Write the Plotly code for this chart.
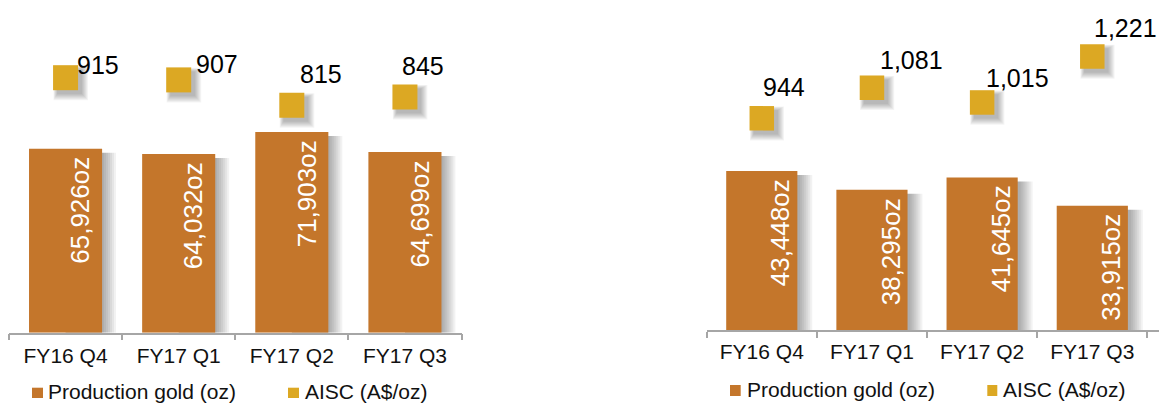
import plotly.graph_objects as go

# ---- data ----
quarters = ["FY16 Q4", "FY17 Q1", "FY17 Q2", "FY17 Q3"]
left_gold_oz = [65926, 64032, 71903, 64699]
left_aisc = [915, 907, 815, 845]
right_gold_oz = [43448, 38295, 41645, 33915]
right_aisc = [944, 1081, 1015, 1221]
series_names = ["Production gold (oz)", "AISC (A$/oz)"]

# ---- style ----
W, H = 1173, 403
BAR = "#C4762B"
GOLD = "#DCA823"
AXIS = "#A6A6A6"
FONT = "Arial, 'Liberation Sans', sans-serif"


def px_x(p):
    return p / W


def px_y(p):
    return 1 - p / H


panels = [
    dict(gold=left_gold_oz, aisc=left_aisc, xs=("x", "y", "y2"),
         x_px=(9, 461.5), base_px=332.7, gold_max=119200, aisc_rng=(-8.9, 1196.5),
         msize=25, bar_dx=15, tick_off=3,
         lbl_shift=[(11, 12.7), (17.5, 15.6), (8.5, 31), (-3, 31)],
         legend=dict(sq=[(32, 43), (288, 299)], sq_y=(387.7, 398), txt=[48, 305], ty=391.5)),
    dict(gold=right_gold_oz, aisc=right_aisc, xs=("x2", "y3", "y4"),
         x_px=(706.7, 1159.3), base_px=330, gold_max=90164, aisc_rng=(-4.9, 1474.3),
         msize=24.5, bar_dx=19, tick_off=2,
         lbl_shift=[(1, 31), (8, 28), (3.5, 24), (2, 29)],
         legend=dict(sq=[(730, 740.7), (987.3, 997.3)], sq_y=(385, 396), txt=[746.7, 1003.3], ty=389)),
]

fig = go.Figure()
shapes = []
annotations = []
layout = {}

for k, p in enumerate(panels):
    xa, ya, ya2 = p["xs"]
    xkey = "xaxis" if xa == "x" else "xaxis" + xa[1:]
    ykey = "yaxis" if ya == "y" else "yaxis" + ya[1:]
    y2key = "yaxis" + ya2[1:]
    ydom = [px_y(p["base_px"]), 1]
    plot_h = p["base_px"]
    gold_scale = plot_h / p["gold_max"]  # px per oz

    layout[xkey] = dict(
        domain=[px_x(p["x_px"][0]), px_x(p["x_px"][1])], anchor=ya,
        type="category", showline=True, linecolor=AXIS, linewidth=1.5,
        ticks="outside", tickson="boundaries", ticklen=6, tickcolor=AXIS, tickwidth=1.5,
        ticklabelstandoff=p["tick_off"],
        tickfont=dict(family=FONT, size=21, color="#111"), showgrid=False, zeroline=False,
    )
    layout[ykey] = dict(domain=ydom, anchor=xa, range=[0, p["gold_max"]], visible=False,
                        showgrid=False, zeroline=False)
    layout[y2key] = dict(overlaying=ya, anchor=xa, range=list(p["aisc_rng"]), visible=False,
                         showgrid=False, zeroline=False)

    fig.add_trace(go.Bar(x=quarters, y=p["gold"], xaxis=xa, yaxis=ya, marker_color=BAR,
                         marker_line_width=0, name=series_names[0], showlegend=False))
    fig.add_trace(go.Scatter(x=quarters, y=p["aisc"], xaxis=xa, yaxis=ya2, mode="markers",
                             marker=dict(symbol="square", size=p["msize"], color=GOLD, line_width=0),
                             name=series_names[1], showlegend=False))

    half = 73 / 2
    for q, v in zip(quarters, p["gold"]):
        # soft shadow on the right-hand side of each bar
        for s in range(1, 8):
            shapes.append(dict(type="rect", layer="below", xref=xa, yref=ya,
                               xsizemode="pixel", xanchor=q, x0=0, x1=half + 2 * s,
                               y0=0, y1=v - 4 / gold_scale,
                               fillcolor="rgba(0,0,0,0.05)", line_width=0))
        annotations.append(dict(x=q, y=v, xref=xa, yref=ya, text=f"{v:,}oz", textangle=-90,
                                showarrow=False, xanchor="center", yanchor="top",
                                xshift=p["bar_dx"], yshift=-6,
                                font=dict(family=FONT, size=26, color="white")))

    m = p["msize"] / 2
    for q, v, (dx, dy) in zip(quarters, p["aisc"], p["lbl_shift"]):
        # drop shadow under each AISC marker
        for s in range(0, 7):
            shapes.append(dict(type="rect", layer="below", xref=xa, yref=ya2,
                               xsizemode="pixel", ysizemode="pixel", xanchor=q, yanchor=v,
                               x0=4 - m - s * 0.6, x1=4 + m + s,
                               y0=-4 - m - s, y1=-4 + m + s * 0.6,
                               fillcolor="rgba(0,0,0,0.045)", line_width=0))
        annotations.append(dict(x=q, y=v, xref=xa, yref=ya2, text=f"{v:,}", showarrow=False,
                                xanchor="left", yanchor="middle", xshift=dx - 2, yshift=dy,
                                font=dict(family=FONT, size=25, color="#000")))

    # series key below each panel
    lg = p["legend"]
    for (x0, x1), tx, name, col in zip(lg["sq"], lg["txt"], series_names, [BAR, GOLD]):
        shapes.append(dict(type="rect", xref="paper", yref="paper",
                           x0=px_x(x0), x1=px_x(x1), y0=px_y(lg["sq_y"][1]), y1=px_y(lg["sq_y"][0]),
                           fillcolor=col, line_width=0))
        annotations.append(dict(x=px_x(tx - 2), y=px_y(lg["ty"]), xref="paper", yref="paper",
                                text=name, showarrow=False, xanchor="left", yanchor="middle",
                                font=dict(family=FONT, size=21, color="#111")))

fig.update_layout(
    width=W, height=H, margin=dict(l=0, r=0, t=0, b=0),
    paper_bgcolor="white", plot_bgcolor="white",
    barmode="overlay", bargap=0.354, showlegend=False,
    shapes=shapes, annotations=annotations, **layout,
)

fig.write_html("out.html")
